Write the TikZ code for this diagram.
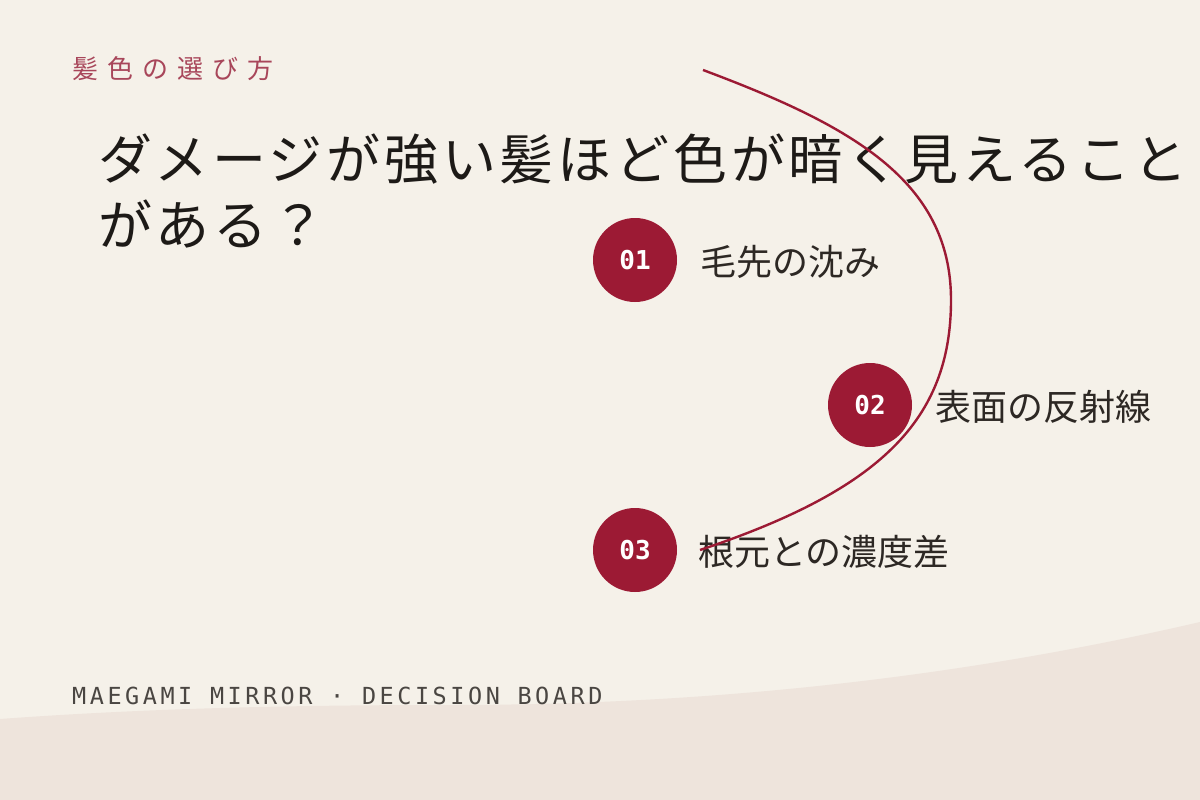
\documentclass[tikz,border=0pt]{standalone}
\usepackage{fontspec}
\usetikzlibrary{positioning}
\newfontfamily\jpfont{Noto Sans CJK JP}
\newfontfamily\kickerfont[LetterSpace=35]{Noto Sans CJK JP}
\newfontfamily\titlefont[LetterSpace=7]{Noto Sans CJK JP}
\newfontfamily\numfont{DejaVu Sans Mono}
\newfontfamily\footfont[LetterSpace=15]{DejaVu Sans Mono}
\definecolor{paper}{HTML}{F5F1E9}
\definecolor{wave}{HTML}{EEE4DC}
\definecolor{crimson}{HTML}{9C1A34}
\definecolor{kicker}{HTML}{A8465A}
\definecolor{ink}{HTML}{1D1A17}
\definecolor{labelink}{HTML}{2D2824}
\definecolor{footink}{HTML}{4A4642}
\tikzset{
  stepdot/.style={circle, fill=crimson, minimum size=84pt, inner sep=0pt,
    text=white, font=\numfont\bfseries\fontsize{26}{26}\selectfont},
  steplabel/.style={inner sep=0pt, text=labelink,
    font=\jpfont\fontsize{36}{36}\selectfont},
  hairline/.style={draw=crimson, line width=2.4pt}
}
\begin{document}
\begin{tikzpicture}[x=1pt,y=-1pt]
    % Page
    \fill[paper] (0,0) rectangle (1200,800);
    \useasboundingbox (0,0) rectangle (1200,800);
    % Lower wave
    \fill[wave] (0,719) .. controls (150,708) and (300,705) .. (450,705)
      .. controls (700,705) and (950,680) .. (1200,622) -- (1200,800) -- (0,800) -- cycle;
    % Kicker and title
    \node[anchor=base west, inner sep=0pt, text=kicker,
      font=\kickerfont\fontsize{26}{26}\selectfont] (kicker) at (72,79) {髪色の選び方};
    \node[anchor=base west, inner sep=0pt, text=ink, align=left,
      font=\titlefont\fontsize{54}{66}\selectfont] (title) at (98,245)
      {ダメージが強い髪ほど色が暗く見えること\\がある？};
    % Step labels
    \node[steplabel] (lab01) at (700,262) [anchor=west] {毛先の沈み};
    \node[steplabel] (lab02) at (935,407) [anchor=west] {表面の反射線};
    \node[steplabel] (lab03) at (698,552) [anchor=west] {根元との濃度差};
    % Arc
    \coordinate (arctop) at (703,70);
    \coordinate (arcmid) at (951,300);
    \coordinate (arcbot) at (700,550);
    \draw[hairline] (arctop) .. controls (850,125) and (951,180) .. (arcmid)
      .. controls (951,420) and (880,490) .. (arcbot);
    % Step markers
    \node[stepdot] (n01) at (635,260) {01};
    \node[stepdot] (n02) at (870,405) {02};
    \node[stepdot] (n03) at (635,550) {03};
    % Footer
    \node[anchor=base west, inner sep=0pt, text=footink,
      font=\footfont\fontsize{23.5}{23.5}\selectfont] (footer) at (72,704)
      {MAEGAMI MIRROR · DECISION BOARD};
\end{tikzpicture}
\end{document}
